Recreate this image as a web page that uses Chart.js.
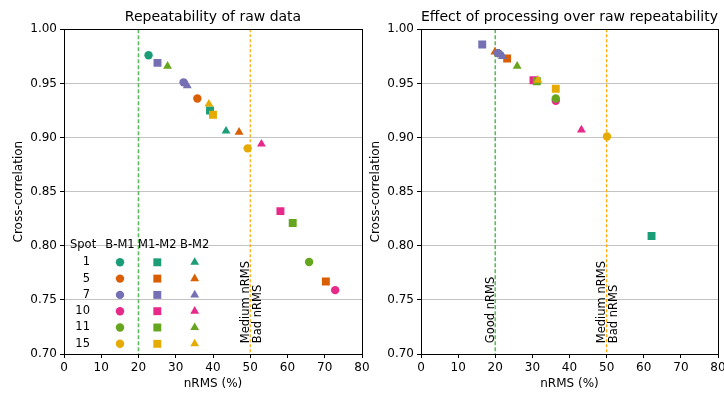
<!DOCTYPE html>
<html>
<head>
<meta charset="utf-8">
<script src="https://cdn.jsdelivr.net/npm/chart.js@4/dist/chart.umd.min.js"></script>
<style>
  body { margin: 0; background: #fff; }
  #wrap { position: relative; width: 724px; height: 394px; overflow: hidden; }
  canvas { position: absolute; top: 0; }
</style>
</head>
<body>
<div id="wrap">
  <canvas id="rawChart" width="372" height="394" style="left:0"></canvas>
  <canvas id="procChart" width="367" height="394" style="left:357px"></canvas>
</div>
<script>
const spots = ["1", "5", "7", "10", "11", "15"];
const pairs = ["B-M1", "M1-M2", "B-M2"];
const spotColors = ["#1b9e77", "#d95f02", "#7570b3", "#e7298a", "#66a61e", "#e6ab02"];

// raw repeatability, one value per spot
const rawBM1_nrms = [22.7, 35.8, 32.1, 72.8, 65.8, 49.3];
const rawBM1_xcorr = [0.976, 0.936, 0.951, 0.759, 0.785, 0.890];
const rawM1M2_nrms = [39.2, 70.3, 25.1, 58.1, 61.4, 40.0];
const rawM1M2_xcorr = [0.925, 0.767, 0.969, 0.832, 0.821, 0.921];
const rawBM2_nrms = [43.5, 47.0, 33.1, 53.0, 27.8, 38.9];
const rawBM2_xcorr = [0.906, 0.905, 0.948, 0.894, 0.966, 0.931];

// after processing
const procBM1_nrms = [20.7, 20.7, 20.7, 36.3, 36.3, 50.1];
const procBM1_xcorr = [0.978, 0.978, 0.978, 0.934, 0.936, 0.901];
const procM1M2_nrms = [62.1, 23.2, 16.5, 30.3, 31.2, 36.3];
const procM1M2_xcorr = [0.809, 0.973, 0.986, 0.953, 0.952, 0.945];
const procBM2_nrms = [22.0, 19.9, 22.0, 43.2, 25.9, 31.5];
const procBM2_xcorr = [0.975, 0.979, 0.975, 0.907, 0.966, 0.953];

const goodNrms = 20;
const badNrms = 50;

Chart.defaults.font.family = "'DejaVu Sans', sans-serif";
Chart.defaults.font.size = 12;
Chart.defaults.color = "#000";

const pointStyles = ["circle", "rect", "triangle"];
const pointRadii = [4.2, 5.6, 5.1];

function buildDatasets(nrms, xcorr) {
  const out = [];
  spots.forEach((s, i) => {
    pairs.forEach((p, j) => {
      out.push({
        label: "Spot " + s + " " + p,
        data: [{ x: nrms[j][i], y: xcorr[j][i] }],
        pointStyle: pointStyles[j],
        pointRadius: pointRadii[j],
        backgroundColor: spotColors[i],
        borderColor: spotColors[i],
        borderWidth: 0,
        order: -(i * 3 + j),
      });
    });
  });
  return out;
}

function drawMarker(ctx, style, r, x, y) {
  ctx.beginPath();
  if (style === "circle") {
    ctx.arc(x, y, r, 0, Math.PI * 2);
  } else if (style === "rect") {
    const h = r * Math.SQRT1_2;
    ctx.rect(x - h, y - h, 2 * h, 2 * h);
  } else {
    const s = Math.sin(Math.PI * 2 / 3) * r;
    ctx.moveTo(x, y - r);
    ctx.lineTo(x + s, y + r * 0.5);
    ctx.lineTo(x - s, y + r * 0.5);
    ctx.closePath();
  }
  ctx.fill();
}

const thresholdLines = {
  id: "thresholdLines",
  beforeDatasetsDraw(chart, args, opts) {
    const { ctx, chartArea: a, scales: { x, y } } = chart;
    ctx.save();
    [[goodNrms, "rgba(44,160,44,0.75)", 1.6, [4, 2]], [badNrms, "#ffa500", 1.2, [3, 2]]].forEach(([v, c, w, d]) => {
      const px = x.getPixelForValue(v);
      ctx.strokeStyle = c;
      ctx.lineWidth = w;
      ctx.setLineDash(d);
      ctx.beginPath();
      ctx.moveTo(px, a.top);
      ctx.lineTo(px, a.bottom);
      ctx.stroke();
    });
    ctx.setLineDash([]);
    ctx.font = "11.5px 'DejaVu Sans'";
    ctx.fillStyle = "#000";
    ctx.textAlign = "left";
    const yb = y.getPixelForValue(0.71);
    opts.labels.forEach(([v, text, side]) => {
      const px = x.getPixelForValue(v);
      ctx.save();
      if (side === "left") {
        ctx.translate(px - 1.7, yb);
        ctx.textBaseline = "alphabetic";
      } else {
        ctx.translate(px + 2, yb);
        ctx.textBaseline = "top";
      }
      ctx.rotate(-Math.PI / 2);
      ctx.fillText(text, 0, 0);
      ctx.restore();
    });
    // axes box
    ctx.strokeStyle = "#000";
    ctx.lineWidth = 1;
    ctx.strokeRect(Math.floor(a.left) + 0.5, Math.floor(a.top) + 0.5,
      Math.round(a.right - a.left), Math.round(a.bottom - a.top));
    ctx.restore();
  }
};

const spotTable = {
  id: "spotTable",
  afterDatasetsDraw(chart) {
    const { ctx, chartArea: a } = chart;
    ctx.save();
    ctx.font = "11.5px 'DejaVu Sans'";
    ctx.fillStyle = "#000";
    ctx.textBaseline = "middle";
    const colX = [a.left + 56, a.left + 93.3, a.left + 130.7];
    const headY = a.bottom - 109;
    ctx.textAlign = "left";
    ctx.fillText("Spot", a.left + 6, headY);
    ctx.textAlign = "center";
    pairs.forEach((p, j) => ctx.fillText(p, colX[j], headY));
    spots.forEach((s, i) => {
      const ry = a.bottom - 91.7 + 16.3 * i;
      ctx.textAlign = "right";
      ctx.fillStyle = "#000";
      ctx.fillText(s, a.left + 26, ry);
      ctx.fillStyle = spotColors[i];
      pairs.forEach((p, j) => drawMarker(ctx, pointStyles[j], pointRadii[j], colX[j], ry));
    });
    ctx.restore();
  }
};

function makeChart(id, title, datasets, lineLabels, extraPlugins, padRight) {
  return new Chart(document.getElementById(id), {
    type: "scatter",
    data: { datasets: datasets },
    options: {
      responsive: false,
      animation: false,
      events: [],
      layout: { padding: { left: 0, right: padRight, top: 0, bottom: 0 } },
      plugins: {
        legend: { display: false },
        tooltip: { enabled: false },
        title: {
          display: true, text: title, fullSize: false, color: "#000",
          font: { size: 14, weight: "normal" }, padding: { top: 9, bottom: 3.5 }
        },
        thresholdLines: { labels: lineLabels },
      },
      scales: {
        x: {
          type: "linear", min: 0, max: 80,
          ticks: { stepSize: 10, padding: 3, maxRotation: 0 },
          grid: { drawOnChartArea: false, drawTicks: true, tickLength: 4, tickColor: "#000" },
          border: { display: false },
          title: { display: true, text: "nRMS (%)", font: { size: 12 }, padding: { top: 0, bottom: 3 } },
          afterFit(s) { s.height = 40; s.paddingLeft = 0; s.paddingRight = 0; }
        },
        y: {
          min: 0.7, max: 1.0,
          ticks: { stepSize: 0.05, padding: 3, callback: v => v.toFixed(2) },
          grid: { color: "#c4c4c4", tickColor: "#000", tickLength: 4 },
          border: { display: false },
          title: { display: true, text: "Cross-correlation", font: { size: 12 }, padding: { top: 12, bottom: 0 } },
          afterFit(s) { s.width = 64; }
        }
      }
    },
    plugins: [thresholdLines].concat(extraPlugins)
  });
}

makeChart("rawChart", "Repeatability of raw data",
  buildDatasets([rawBM1_nrms, rawM1M2_nrms, rawBM2_nrms], [rawBM1_xcorr, rawM1M2_xcorr, rawBM2_xcorr]),
  [[badNrms, "Medium nRMS", "left"], [badNrms, "Bad nRMS", "right"]],
  [spotTable], 10);

makeChart("procChart", "Effect of processing over raw repeatability",
  buildDatasets([procBM1_nrms, procM1M2_nrms, procBM2_nrms], [procBM1_xcorr, procM1M2_xcorr, procBM2_xcorr]),
  [[goodNrms, "Good nRMS", "left"], [badNrms, "Medium nRMS", "left"], [badNrms, "Bad nRMS", "right"]],
  [], 6);
</script>
</body>
</html>
